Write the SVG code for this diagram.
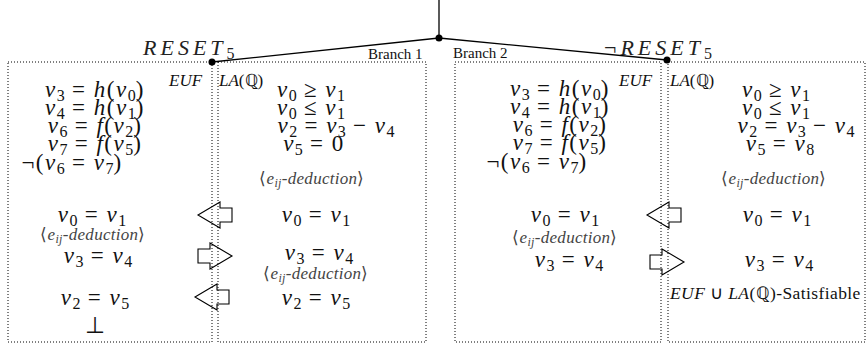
<svg xmlns="http://www.w3.org/2000/svg" width="866" height="354" viewBox="0 0 866 354">
<defs>
<style>
.bg{fill:#fff}
.dot{fill:none;stroke:#000;stroke-width:1;stroke-dasharray:1 2}
.ln{fill:none;stroke:#000;stroke-width:1.3}
.arr{fill:none;stroke:#000;stroke-width:1.1}
.m{font-family:"Liberation Serif",serif;font-style:italic;font-size:23px;letter-spacing:1.5px;fill:#111}
.u{font-style:normal}
.sb{font-size:16px;font-style:normal;letter-spacing:0}
.d{font-family:"Liberation Serif",serif;font-style:italic;font-size:17px;letter-spacing:0.3px;fill:#444}
.ds{font-size:12px}
.lab{font-family:"Liberation Serif",serif;font-style:italic;font-size:17px;fill:#111}
.sat{font-family:"Liberation Serif",serif;font-style:italic;font-size:17.5px;letter-spacing:0.4px;fill:#111}
.br{font-family:"Liberation Serif",serif;font-size:15px;fill:#111}
.big{font-family:"Liberation Serif",serif;font-style:italic;font-size:22px;fill:#222;letter-spacing:4px}
.mid{text-anchor:middle}
</style>
<path id="la" d="M0 0 L22 -13 L22 -7 L34 -7 L34 7 L22 7 L22 13 Z"/>
<path id="ra" d="M34 0 L12 -13 L12 -7 L0 -7 L0 7 L12 7 L12 13 Z"/>
</defs>
<rect class="bg" width="866" height="354"/>

<g id="connectors">
<line class="ln" x1="439" y1="0" x2="439" y2="38"/>
<line class="ln" x1="439" y1="38" x2="212" y2="62"/>
<line class="ln" x1="439" y1="38" x2="667" y2="60"/>
<circle cx="439" cy="38" r="3.5"/>
<circle cx="212" cy="62" r="3.5"/>
<circle cx="667" cy="60" r="3.5"/>
</g>

<g id="branch1">
<text class="big" x="143" y="55">RESET<tspan class="sb" dy="4">5</tspan></text>
<text class="br" x="368" y="59">Branch 1</text>
<g id="euf1">
<rect class="dot" x="8" y="62" width="204" height="280"/>
<text class="lab" x="169" y="86">EUF</text>
<text class="m mid" x="95" y="97">v<tspan class="sb" baseline-shift="-4">3</tspan><tspan class="u"> = </tspan>h<tspan class="u">(</tspan>v<tspan class="sb" baseline-shift="-4">0</tspan><tspan class="u">)</tspan></text>
<text class="m mid" x="95" y="115">v<tspan class="sb" baseline-shift="-4">4</tspan><tspan class="u"> = </tspan>h<tspan class="u">(</tspan>v<tspan class="sb" baseline-shift="-4">1</tspan><tspan class="u">)</tspan></text>
<text class="m mid" x="95" y="133">v<tspan class="sb" baseline-shift="-4">6</tspan><tspan class="u"> = </tspan>f<tspan class="u">(</tspan>v<tspan class="sb" baseline-shift="-4">2</tspan><tspan class="u">)</tspan></text>
<text class="m mid" x="95" y="151">v<tspan class="sb" baseline-shift="-4">7</tspan><tspan class="u"> = </tspan>f<tspan class="u">(</tspan>v<tspan class="sb" baseline-shift="-4">5</tspan><tspan class="u">)</tspan></text>
<text class="m mid" x="72" y="170"><tspan class="u">¬(</tspan>v<tspan class="sb" baseline-shift="-4">6</tspan><tspan class="u"> = </tspan>v<tspan class="sb" baseline-shift="-4">7</tspan><tspan class="u">)</tspan></text>
<text class="m mid" x="92" y="222">v<tspan class="sb" baseline-shift="-4">0</tspan><tspan class="u"> = </tspan>v<tspan class="sb" baseline-shift="-4">1</tspan></text>
<text class="d mid" x="93" y="240"><tspan class="u">⟨</tspan>e<tspan class="ds" baseline-shift="-3">ij</tspan>-deduction<tspan class="u">⟩</tspan></text>
<text class="m mid" x="98" y="263">v<tspan class="sb" baseline-shift="-4">3</tspan><tspan class="u"> = </tspan>v<tspan class="sb" baseline-shift="-4">4</tspan></text>
<text class="m mid" x="95" y="305">v<tspan class="sb" baseline-shift="-4">2</tspan><tspan class="u"> = </tspan>v<tspan class="sb" baseline-shift="-4">5</tspan></text>
<text class="m mid u" x="96" y="333">⊥</text>
</g>
<g id="la1">
<rect class="dot" x="218" y="62" width="208" height="280"/>
<text class="lab" x="219" y="86">LA<tspan class="u">(ℚ)</tspan></text>
<text class="m mid" x="311" y="97">v<tspan class="sb" baseline-shift="-4">0</tspan><tspan class="u"> ≥ </tspan>v<tspan class="sb" baseline-shift="-4">1</tspan></text>
<text class="m mid" x="311" y="115">v<tspan class="sb" baseline-shift="-4">0</tspan><tspan class="u"> ≤ </tspan>v<tspan class="sb" baseline-shift="-4">1</tspan></text>
<text class="m mid" x="336" y="133">v<tspan class="sb" baseline-shift="-4">2</tspan><tspan class="u"> = </tspan>v<tspan class="sb" baseline-shift="-4">3</tspan><tspan class="u"> − </tspan>v<tspan class="sb" baseline-shift="-4">4</tspan></text>
<text class="m mid" x="314" y="151">v<tspan class="sb" baseline-shift="-4">5</tspan><tspan class="u"> = 0</tspan></text>
<text class="d mid" x="312" y="184"><tspan class="u">⟨</tspan>e<tspan class="ds" baseline-shift="-3">ij</tspan>-deduction<tspan class="u">⟩</tspan></text>
<text class="m mid" x="316" y="222">v<tspan class="sb" baseline-shift="-4">0</tspan><tspan class="u"> = </tspan>v<tspan class="sb" baseline-shift="-4">1</tspan></text>
<text class="m mid" x="319" y="260">v<tspan class="sb" baseline-shift="-4">3</tspan><tspan class="u"> = </tspan>v<tspan class="sb" baseline-shift="-4">4</tspan></text>
<text class="d mid" x="316" y="279"><tspan class="u">⟨</tspan>e<tspan class="ds" baseline-shift="-3">ij</tspan>-deduction<tspan class="u">⟩</tspan></text>
<text class="m mid" x="316" y="305">v<tspan class="sb" baseline-shift="-4">2</tspan><tspan class="u"> = </tspan>v<tspan class="sb" baseline-shift="-4">5</tspan></text>
</g>
<g id="arrows1">
<use href="#la" class="arr" x="198" y="215"/>
<use href="#ra" class="arr" x="198" y="256"/>
<use href="#la" class="arr" x="195" y="297"/>
</g>
</g>

<g id="branch2">
<text class="big" x="604" y="55"><tspan class="u">¬</tspan>RESET<tspan class="sb" dy="4">5</tspan></text>
<text class="br" x="453" y="58">Branch 2</text>
<g id="euf2">
<rect class="dot" x="455" y="62" width="206" height="280"/>
<text class="lab" x="619" y="86">EUF</text>
<text class="m mid" x="560" y="96">v<tspan class="sb" baseline-shift="-4">3</tspan><tspan class="u"> = </tspan>h<tspan class="u">(</tspan>v<tspan class="sb" baseline-shift="-4">0</tspan><tspan class="u">)</tspan></text>
<text class="m mid" x="560" y="114">v<tspan class="sb" baseline-shift="-4">4</tspan><tspan class="u"> = </tspan>h<tspan class="u">(</tspan>v<tspan class="sb" baseline-shift="-4">1</tspan><tspan class="u">)</tspan></text>
<text class="m mid" x="560" y="132">v<tspan class="sb" baseline-shift="-4">6</tspan><tspan class="u"> = </tspan>f<tspan class="u">(</tspan>v<tspan class="sb" baseline-shift="-4">2</tspan><tspan class="u">)</tspan></text>
<text class="m mid" x="560" y="150">v<tspan class="sb" baseline-shift="-4">7</tspan><tspan class="u"> = </tspan>f<tspan class="u">(</tspan>v<tspan class="sb" baseline-shift="-4">5</tspan><tspan class="u">)</tspan></text>
<text class="m mid" x="537" y="169"><tspan class="u">¬(</tspan>v<tspan class="sb" baseline-shift="-4">6</tspan><tspan class="u"> = </tspan>v<tspan class="sb" baseline-shift="-4">7</tspan><tspan class="u">)</tspan></text>
<text class="m mid" x="565" y="222">v<tspan class="sb" baseline-shift="-4">0</tspan><tspan class="u"> = </tspan>v<tspan class="sb" baseline-shift="-4">1</tspan></text>
<text class="d mid" x="565" y="243"><tspan class="u">⟨</tspan>e<tspan class="ds" baseline-shift="-3">ij</tspan>-deduction<tspan class="u">⟩</tspan></text>
<text class="m mid" x="569" y="267">v<tspan class="sb" baseline-shift="-4">3</tspan><tspan class="u"> = </tspan>v<tspan class="sb" baseline-shift="-4">4</tspan></text>
</g>
<g id="la2">
<rect class="dot" x="668" y="62" width="197" height="280"/>
<text class="lab" x="670" y="86">LA<tspan class="u">(ℚ)</tspan></text>
<text class="m mid" x="776" y="97">v<tspan class="sb" baseline-shift="-4">0</tspan><tspan class="u"> ≥ </tspan>v<tspan class="sb" baseline-shift="-4">1</tspan></text>
<text class="m mid" x="776" y="115">v<tspan class="sb" baseline-shift="-4">0</tspan><tspan class="u"> ≤ </tspan>v<tspan class="sb" baseline-shift="-4">1</tspan></text>
<text class="m mid" x="796" y="133">v<tspan class="sb" baseline-shift="-4">2</tspan><tspan class="u"> = </tspan>v<tspan class="sb" baseline-shift="-4">3</tspan><tspan class="u"> − </tspan>v<tspan class="sb" baseline-shift="-4">4</tspan></text>
<text class="m mid" x="780" y="151">v<tspan class="sb" baseline-shift="-4">5</tspan><tspan class="u"> = </tspan>v<tspan class="sb" baseline-shift="-4">8</tspan></text>
<text class="d mid" x="774" y="184"><tspan class="u">⟨</tspan>e<tspan class="ds" baseline-shift="-3">ij</tspan>-deduction<tspan class="u">⟩</tspan></text>
<text class="m mid" x="777" y="222">v<tspan class="sb" baseline-shift="-4">0</tspan><tspan class="u"> = </tspan>v<tspan class="sb" baseline-shift="-4">1</tspan></text>
<text class="m mid" x="779" y="267">v<tspan class="sb" baseline-shift="-4">3</tspan><tspan class="u"> = </tspan>v<tspan class="sb" baseline-shift="-4">4</tspan></text>
<text class="sat" x="670" y="299">EUF<tspan class="u"> ∪ </tspan>LA<tspan class="u">(ℚ)-Satisfiable</tspan></text>
</g>
<g id="arrows2">
<use href="#la" class="arr" x="647" y="215"/>
<use href="#ra" class="arr" x="650" y="262"/>
</g>
</g>
</svg>
